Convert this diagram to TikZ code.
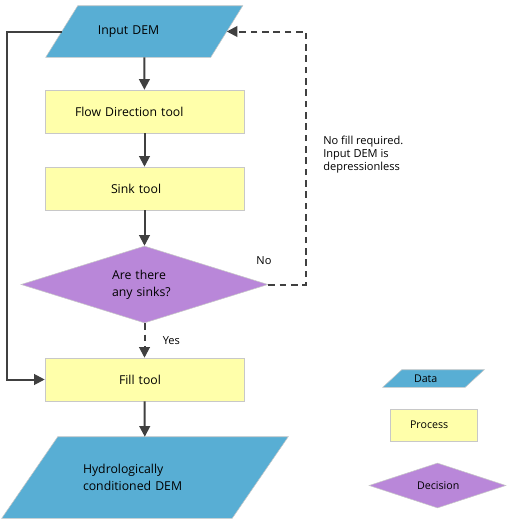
\documentclass[tikz,border=0pt]{standalone}
\usepackage{fontspec}
\setmainfont{Open Sans}
\usetikzlibrary{shapes.geometric,arrows.meta,positioning,backgrounds}
\definecolor{datablue}{RGB}{88,174,212}
\definecolor{procyellow}{RGB}{255,255,170}
\definecolor{decpurple}{RGB}{185,135,217}
\definecolor{edgegray}{RGB}{200,200,200}
\definecolor{linegray}{RGB}{64,64,64}
\begin{document}
\begin{tikzpicture}[x=0.75pt, y=-0.75pt, font=\fontsize{9.2}{12.75}\selectfont,
  datanode/.style={rectangle, align=left, inner sep=0pt},
  procnode/.style={rectangle, fill=procyellow, draw=edgegray, thin, align=left, inner sep=0pt, minimum width=149.25pt, minimum height=32.25pt},
  decnode/.style={diamond, aspect=3.2, fill=decpurple, draw=edgegray, thin, align=left, inner sep=0pt},
  conn/.style={draw=linegray, line width=1.5pt, -{Triangle[length=8pt,width=8pt]}},
  note/.style={font=\fontsize{8.3}{9.75}\selectfont, align=left, inner sep=0pt},
  legend/.style={font=\fontsize{8}{10}\selectfont}]
\useasboundingbox (0,0) rectangle (510,522);
% main flow
\node[datanode, minimum width=123.375pt, minimum height=38.25pt, text width=69.4pt] (din) at (144.25,31.5) {Input DEM};
\node[procnode, text width=104.25pt] (flowdir) at (144.5,111.5) {Flow Direction tool};
\node[procnode, text width=50.25pt] (sink) at (144.5,188.5) {Sink tool};
\node[decnode, minimum width=185.25pt, minimum height=57.75pt, text width=48.75pt] (dec) at (144.5,284.5) {Are there\\any sinks?};
\node[procnode, text width=38.25pt] (fill) at (144.5,379.5) {Fill tool};
\node[datanode, minimum width=172.5pt, minimum height=60.75pt, text width=93pt] (dout) at (145,477.5) {Hydrologically\\conditioned DEM};
% connectors
\draw[conn] (din) -- (flowdir);
\draw[conn] (flowdir) -- (sink);
\draw[conn] (sink) -- (dec);
\draw[conn, dash pattern=on 5pt off 3.5pt] (dec) -- node[note, right=13pt] (yes) {Yes} (fill);
\draw[conn] (fill) -- (dout);
\draw[conn] (din.west) -- ++(-55,0) |- (fill.west);
\draw[conn, dash pattern=on 5pt off 3.5pt] (dec.east) -- ++(38,0) |- (din.east);
\node[note] (no) at (264,261) {No};
\node[note, anchor=north west] (reason) at (323,135.5) {No fill required.\\Input DEM is\\depressionless};
% legend
\node[datanode, legend, minimum width=61.5pt, minimum height=12.75pt, text width=29.25pt] (ldata) at (433.5,378.5) {Data};
\node[procnode, legend, minimum width=65.25pt, minimum height=24pt, text width=35.25pt] (lproc) at (433.5,425) {Process};
\node[decnode, legend, minimum width=102.75pt, minimum height=33.75pt, text width=30.75pt] (ldec) at (437.5,485.5) {Decision};
% data parallelograms behind the text
\begin{pgfonlayer}{background}
\foreach \n/\o in {din/16, dout/28, ldata/9.5}
  \filldraw[fill=datablue, draw=edgegray, thin] ([shift={(\o,0)}]\n.north west) -- ([shift={(\o,0)}]\n.north east)
    -- ([shift={(-\o,0)}]\n.south east) -- ([shift={(-\o,0)}]\n.south west) -- cycle;
\end{pgfonlayer}
\end{tikzpicture}
\end{document}
